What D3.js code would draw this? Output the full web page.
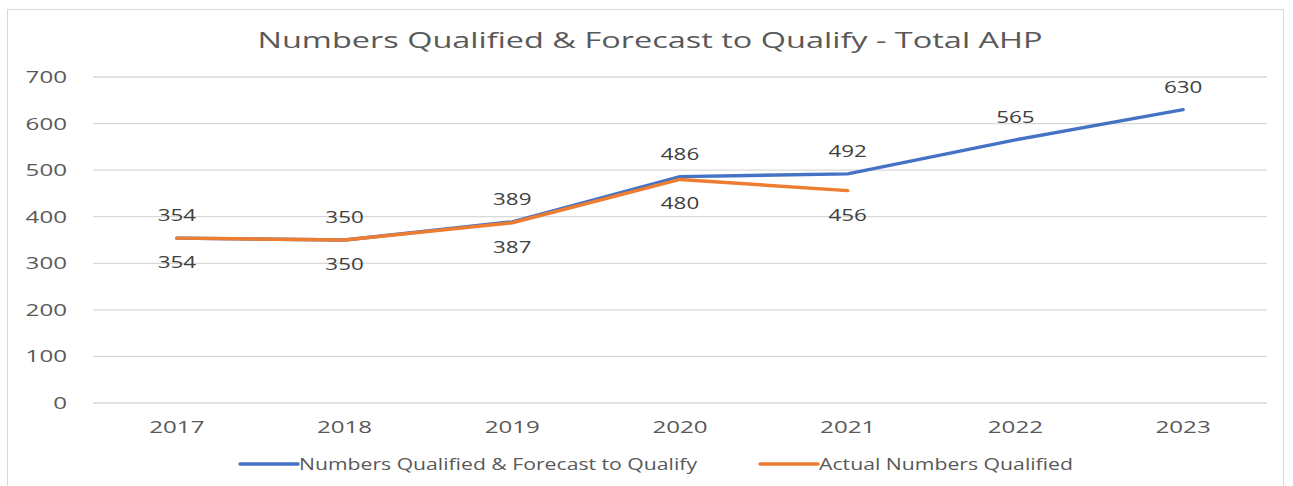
<!DOCTYPE html>
<html><head><meta charset="utf-8">
<script src="https://cdn.jsdelivr.net/npm/d3@7"></script>
<style>body{margin:0;background:#fff}svg{display:block}text{font-family:"Open Sans",sans-serif}</style>
</head><body>
<svg id="c" width="1293" height="486"></svg>
<script>
const years = ["2017","2018","2019","2020","2021","2022","2023"];
const forecast = [354, 350, 389, 486, 492, 565, 630];
const actual = [354, 350, 387, 480, 456];
const yTicks = [0, 100, 200, 300, 400, 500, 600, 700];
const title = "Numbers Qualified & Forecast to Qualify - Total AHP";
const seriesNames = ["Numbers Qualified & Forecast to Qualify", "Actual Numbers Qualified"];
const colors = ["#4472C4", "#ED7D31"];

const svg = d3.select("#c");
svg.append("rect").attr("x",7.5).attr("y",9.5).attr("width",1276).attr("height",480).attr("fill","#fff").attr("stroke","#d9d9d9");

const x = d3.scaleBand().domain(years).range([93, 1267]);
const y = d3.scaleLinear().domain([0, 700]).range([403, 77]);
const cx = d => x(d) + x.bandwidth()/2;
const wide = (sel, per) => sel.attr("textLength", d => String(d).length * per).attr("lengthAdjust","spacingAndGlyphs");

svg.append("text").attr("x", 650).attr("y", 48).attr("text-anchor","middle")
  .attr("font-size", 22.5).attr("fill","#595959").attr("textLength", 785).attr("lengthAdjust","spacingAndGlyphs").text(title);

const g = svg.append("g");
g.selectAll("line.grid").data(yTicks).join("line").attr("class","grid")
  .attr("x1", 93).attr("x2", 1267).attr("y1", d=>y(d)).attr("y2", d=>y(d))
  .attr("stroke","#d9d9d9").attr("stroke-width",1.3);
g.selectAll("text.yl").data(yTicks).join("text").attr("class","yl")
  .attr("x", 67).attr("y", d=>y(d)).attr("dy","0.35em").attr("text-anchor","end")
  .attr("font-size", 17).attr("fill","#595959").text(d=>d).call(wide, 13.8);
g.selectAll("text.xl").data(years).join("text").attr("class","xl")
  .attr("x", d=>cx(d)).attr("y", 427).attr("dy","0.35em").attr("text-anchor","middle")
  .attr("font-size", 17).attr("fill","#595959").text(d=>d).call(wide, 13.8);

const line = d3.line().x((d,i)=>cx(years[i])).y(d=>y(d));
[forecast, actual].forEach((s,k)=>{
  svg.append("path").datum(s).attr("d", line).attr("fill","none")
    .attr("stroke", colors[k]).attr("stroke-width", 3.4)
    .attr("stroke-linecap","round").attr("stroke-linejoin","round");
});

svg.selectAll("text.lb1").data(forecast).join("text").attr("class","lb1")
  .attr("x",(d,i)=>cx(years[i])).attr("y", d=>y(d)-23).attr("dy","0.35em")
  .attr("text-anchor","middle").attr("font-size",17).attr("fill","#404040").text(d=>d).call(wide, 12.8);
svg.selectAll("text.lb2").data(actual).join("text").attr("class","lb2")
  .attr("x",(d,i)=>cx(years[i])).attr("y", d=>y(d)+24).attr("dy","0.35em")
  .attr("text-anchor","middle").attr("font-size",17).attr("fill","#404040").text(d=>d).call(wide, 12.8);

const legX = [240, 760], legW = [398, 254];
seriesNames.forEach((n,k)=>{
  svg.append("line").attr("x1",legX[k]).attr("x2",legX[k]+58).attr("y1",464).attr("y2",464)
    .attr("stroke",colors[k]).attr("stroke-width",3.4).attr("stroke-linecap","round");
  svg.append("text").attr("x",legX[k]+59).attr("y",464).attr("dy","0.35em")
    .attr("font-size",16.5).attr("fill","#595959").attr("textLength",legW[k]).attr("lengthAdjust","spacingAndGlyphs").text(n);
});
</script>
</body></html>
